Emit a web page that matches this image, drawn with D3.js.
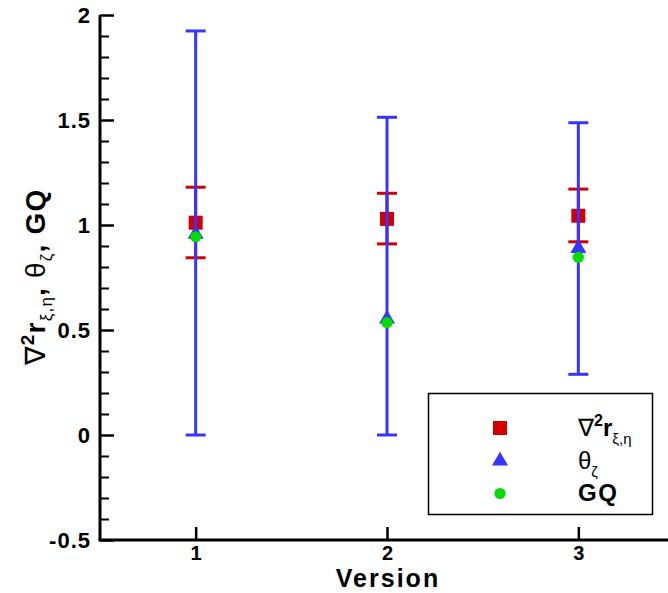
<!DOCTYPE html>
<html>
<head>
<meta charset="utf-8">
<script src="https://cdn.jsdelivr.net/npm/d3@7"></script>
<style>
  html, body { margin: 0; padding: 0; background: #fff; }
  svg { display: block; font-family: "Liberation Sans", Arial, sans-serif; }
</style>
</head>
<body>
<svg id="chart" width="668" height="593"></svg>
<script>
// Versions on the x axis
const versions = [1, 2, 3];

// ∇²r_{ξ,η}: mean with lower/upper error bounds
const lapMean  = [1.011, 1.029, 1.044];
const lapLow   = [0.844, 0.910, 0.920];
const lapHigh  = [1.180, 1.151, 1.171];

// θ_ζ: mean with lower/upper error bounds
const thetaMean = [0.957, 0.553, 0.889];
const thetaLow  = [0.000, 0.000, 0.289];
const thetaHigh = [1.924, 1.513, 1.487];

// GQ values
const gqMean = [0.944, 0.535, 0.846];

const yTicks = [-0.5, 0, 0.5, 1, 1.5, 2];
const yTickLabels = ["-0.5", "0", "0.5", "1", "1.5", "2"];
const xTickLabels = ["1", "2", "3"];

const RED = "#d40000", BLUE = "#3535ff", GREEN = "#00dd00";
const FONT = "Liberation Sans, Arial, sans-serif";

const svg = d3.select("#chart");
const x = d3.scaleLinear().domain([0.5, 3.5]).range([100, 674]);
const y = d3.scaleLinear().domain([-0.5, 2]).range([540, 15]);

// Error bars
function errorBars(cls, lows, highs, color, capW) {
  const g = svg.append("g").attr("class", cls)
    .attr("stroke", color).attr("stroke-width", 3).attr("fill", "none");
  versions.forEach((v, i) => {
    const cx = x(v);
    g.append("line").attr("x1", cx).attr("x2", cx).attr("y1", y(lows[i])).attr("y2", y(highs[i]));
    g.append("line").attr("x1", cx - capW / 2).attr("x2", cx + capW / 2).attr("y1", y(lows[i])).attr("y2", y(lows[i]));
    g.append("line").attr("x1", cx - capW / 2).attr("x2", cx + capW / 2).attr("y1", y(highs[i])).attr("y2", y(highs[i]));
  });
}

errorBars("err-lap", lapLow, lapHigh, RED, 20);

// Squares
const sq = 14;
svg.append("g").selectAll("rect").data(versions).join("rect")
  .attr("x", d => x(d) - sq / 2)
  .attr("y", (d, i) => y(lapMean[i]) - sq / 2)
  .attr("width", sq).attr("height", sq).attr("fill", RED);

errorBars("err-theta", thetaLow, thetaHigh, BLUE, 20);

// Triangles
const tri = d3.symbol().type(d3.symbolTriangle).size(110);
svg.append("g").selectAll("path").data(versions).join("path")
  .attr("d", tri)
  .attr("transform", (d, i) => `translate(${x(d)},${y(thetaMean[i])})`)
  .attr("fill", BLUE);

// Circles
svg.append("g").selectAll("circle").data(versions).join("circle")
  .attr("cx", d => x(d))
  .attr("cy", (d, i) => y(gqMean[i]))
  .attr("r", 5.6).attr("fill", GREEN);

// Y axis: minor then major ticks, pointing inward
const minorVals = d3.range(-5, 21).map(k => k / 10).filter(v => !yTicks.some(t => Math.abs(t - v) < 1e-9));
svg.append("g").attr("transform", "translate(100,0)")
  .call(d3.axisLeft(y).tickValues(minorVals).tickSize(-9).tickFormat(""))
  .call(g => g.select(".domain").remove())
  .call(g => g.selectAll(".tick line").attr("stroke", "#000").attr("stroke-width", 2));

svg.append("g").attr("class", "y-axis").attr("transform", "translate(100,0)")
  .call(d3.axisLeft(y).tickValues(yTicks).tickSize(-14).tickPadding(9)
    .tickFormat((d, i) => yTickLabels[i]))
  .call(g => g.select(".domain").attr("stroke", "#000").attr("stroke-width", 3)
    .attr("d", `M0,${y(2)}V${y(-0.5)}`))
  .call(g => g.selectAll(".tick line").attr("stroke", "#000").attr("stroke-width", 2.5))
  .call(g => g.selectAll("text").attr("fill", "#000")
    .attr("font-family", FONT).attr("letter-spacing", 1)
    .attr("font-size", 22).attr("font-weight", "bold"));

// X axis
svg.append("g").attr("class", "x-axis").attr("transform", "translate(0,540)")
  .call(d3.axisBottom(x).tickValues(versions).tickSize(-13).tickPadding(5.5)
    .tickFormat((d, i) => xTickLabels[i]))
  .call(g => g.select(".domain").attr("stroke", "#000").attr("stroke-width", 3)
    .attr("d", `M98.5,0H674`))
  .call(g => g.selectAll(".tick line").attr("stroke", "#000").attr("stroke-width", 2.5))
  .call(g => g.selectAll("text").attr("fill", "#000")
    .attr("font-family", FONT)
    .attr("font-size", 20).attr("font-weight", "bold"));

// X axis title
svg.append("text")
  .attr("x", 388).attr("y", 587)
  .attr("text-anchor", "middle")
  .attr("font-size", 25).attr("font-weight", "bold").attr("letter-spacing", 2)
  .text("Version");

// Y axis title with sub/superscripts
const yt = svg.append("text")
  .attr("transform", "translate(45,277) rotate(-90)")
  .attr("text-anchor", "middle")
  .attr("font-size", 28).attr("font-weight", "bold").attr("letter-spacing", 1.2);
yt.append("tspan").attr("font-weight", "normal").text("∇");
yt.append("tspan").attr("font-size", 19).attr("dy", -11).text("2");
yt.append("tspan").attr("dy", 11).text("r");
yt.append("tspan").attr("font-size", 17).attr("font-weight", "normal").attr("dy", 7).text("ξ,η");
yt.append("tspan").attr("dy", -7).text(", ");
yt.append("tspan").attr("font-weight", "normal").text("θ");
yt.append("tspan").attr("font-size", 17).attr("font-weight", "normal").attr("dy", 7).text("ζ");
yt.append("tspan").attr("dy", -7).text(", GQ");

// Legend
const lg = svg.append("g").attr("class", "legend");
lg.append("rect").attr("x", 428.5).attr("y", 393.5).attr("width", 224).attr("height", 121)
  .attr("fill", "#fff").attr("stroke", "#000").attr("stroke-width", 1.5);
const lx = 500;
lg.append("rect").attr("x", lx - 7).attr("y", 428 - 7).attr("width", 14).attr("height", 14).attr("fill", RED);
lg.append("path").attr("d", tri).attr("transform", `translate(${lx},${461})`).attr("fill", BLUE);
lg.append("circle").attr("cx", lx).attr("cy", 493.5).attr("r", 5.6).attr("fill", GREEN);

const t1 = lg.append("text").attr("x", 578).attr("y", 436).attr("font-size", 24);
t1.append("tspan").text("∇");
t1.append("tspan").attr("font-size", 16).attr("font-weight", "bold").attr("dy", -10).text("2");
t1.append("tspan").attr("font-weight", "bold").attr("dy", 10).text("r");
t1.append("tspan").attr("font-size", 15).attr("dy", 8).text("ξ,η");

const t2 = lg.append("text").attr("x", 578).attr("y", 469).attr("font-size", 24);
t2.append("tspan").text("θ");
t2.append("tspan").attr("font-size", 15).attr("dy", 8).text("ζ");

lg.append("text").attr("x", 578).attr("y", 501).attr("font-size", 24).attr("font-weight", "bold")
  .attr("letter-spacing", 1.5).text("GQ");
</script>
</body>
</html>
